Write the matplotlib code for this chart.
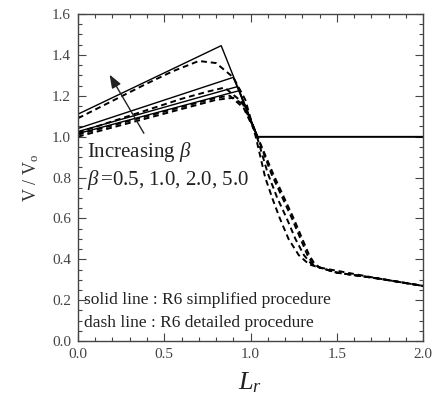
import matplotlib
matplotlib.use("Agg")
import matplotlib.pyplot as plt
from matplotlib.ticker import MultipleLocator, FormatStrFormatter

plt.rcParams['font.family'] = ['Liberation Serif', 'DejaVu Serif']
plt.rcParams['mathtext.fontset'] = 'custom'
plt.rcParams['mathtext.rm'] = 'Liberation Serif'
plt.rcParams['mathtext.it'] = 'Liberation Serif:italic'

# Solid lines (R6 simplified procedure), one per beta: 0.5, 1.0, 2.0, 5.0
solid_Lr = [
    [0.0, 0.935, 1.04, 2.0],
    [0.0, 0.925, 1.04, 2.0],
    [0.0, 0.90, 1.04, 2.0],
    [0.0, 0.83, 1.04, 2.0],
]
solid_V = [
    [1.015, 1.225, 1.0, 1.0],
    [1.025, 1.245, 1.0, 1.0],
    [1.04, 1.29, 1.0, 1.0],
    [1.11, 1.445, 1.0, 1.0],
]

# Dashed lines (R6 detailed procedure)
dash_Lr = [
    [0.0, 0.2, 0.4, 0.6, 0.8, 0.9, 0.97, 1.04, 1.13, 1.19, 1.25, 1.30, 1.34, 1.37, 1.40, 1.5, 1.75, 2.0],
    [0.0, 0.2, 0.4, 0.6, 0.8, 0.88, 0.96, 1.04, 1.12, 1.18, 1.24, 1.29, 1.33, 1.36, 1.40, 1.5, 1.75, 2.0],
    [0.0, 0.2, 0.4, 0.6, 0.75, 0.85, 0.95, 1.03, 1.10, 1.155, 1.21, 1.26, 1.31, 1.35, 1.40, 1.5, 1.75, 2.0],
    [0.0, 0.2, 0.4, 0.55, 0.7, 0.8, 0.9, 0.97, 1.03, 1.085, 1.13, 1.17, 1.22, 1.28, 1.34, 1.40, 1.75, 2.0],
]
dash_V = [
    [1.0, 1.045, 1.09, 1.135, 1.18, 1.19, 1.15, 1.0, 0.82, 0.71, 0.60, 0.50, 0.42, 0.38, 0.36, 0.335, 0.305, 0.27],
    [1.01, 1.055, 1.10, 1.145, 1.19, 1.20, 1.14, 1.0, 0.82, 0.71, 0.60, 0.50, 0.42, 0.38, 0.36, 0.335, 0.305, 0.27],
    [1.02, 1.075, 1.13, 1.185, 1.22, 1.24, 1.17, 1.02, 0.82, 0.70, 0.60, 0.50, 0.42, 0.38, 0.36, 0.335, 0.305, 0.27],
    [1.09, 1.175, 1.26, 1.32, 1.37, 1.36, 1.29, 1.18, 1.0, 0.80, 0.69, 0.60, 0.50, 0.42, 0.375, 0.36, 0.305, 0.27],
]

fig = plt.figure(figsize=(4.38, 3.99), dpi=100)
ax = fig.add_axes([0.178, 0.145, 0.788, 0.82])

for x, y in zip(solid_Lr, solid_V):
    ax.plot(x, y, color='black', lw=1.0, solid_joinstyle='miter')
for x, y in zip(dash_Lr, dash_V):
    ax.plot(x, y, color='black', lw=1.4, ls=(0, (3, 2)))

ax.annotate('', xy=(0.175, 1.315), xytext=(0.39, 1.005),
            arrowprops=dict(arrowstyle='-|>,head_length=0.8,head_width=0.3',
                            color='#222222', lw=1.0))

ax.text(0.05, 0.925, r'Increasing $\beta$', fontsize=15, color='#222222', va='center')
ax.text(0.05, 0.79, r'$\beta\,$=0.5, 1.0, 2.0, 5.0', fontsize=15, color='#222222', va='center')
ax.text(0.035, 0.20, 'solid line : R6 simplified procedure', fontsize=12.5, color='#222222', va='center')
ax.text(0.035, 0.09, 'dash line : R6 detailed procedure', fontsize=12.5, color='#222222', va='center')

ax.set_xlim(0, 2.0)
ax.set_ylim(0, 1.6)
ax.xaxis.set_major_locator(MultipleLocator(0.5))
ax.xaxis.set_minor_locator(MultipleLocator(0.1))
ax.yaxis.set_major_locator(MultipleLocator(0.2))
ax.yaxis.set_minor_locator(MultipleLocator(0.05))
ax.xaxis.set_major_formatter(FormatStrFormatter('%.1f'))
ax.yaxis.set_major_formatter(FormatStrFormatter('%.1f'))
ax.tick_params(which='both', direction='in', top=True, right=True, color='#444444',
               labelsize=11, labelcolor='#444444', width=0.8)
ax.tick_params(which='major', length=6, pad=5)
ax.tick_params(which='minor', length=3)
for s in ax.spines.values():
    s.set_color('#444444')
    s.set_linewidth(1.0)

ax.set_xlabel(r'$L_r$', fontsize=19, color='#222222', labelpad=7)
ax.set_ylabel(r'V / V$_{\rm o}$', fontsize=13, color='#333333', labelpad=8)

fig.savefig('out.png', dpi=100)
